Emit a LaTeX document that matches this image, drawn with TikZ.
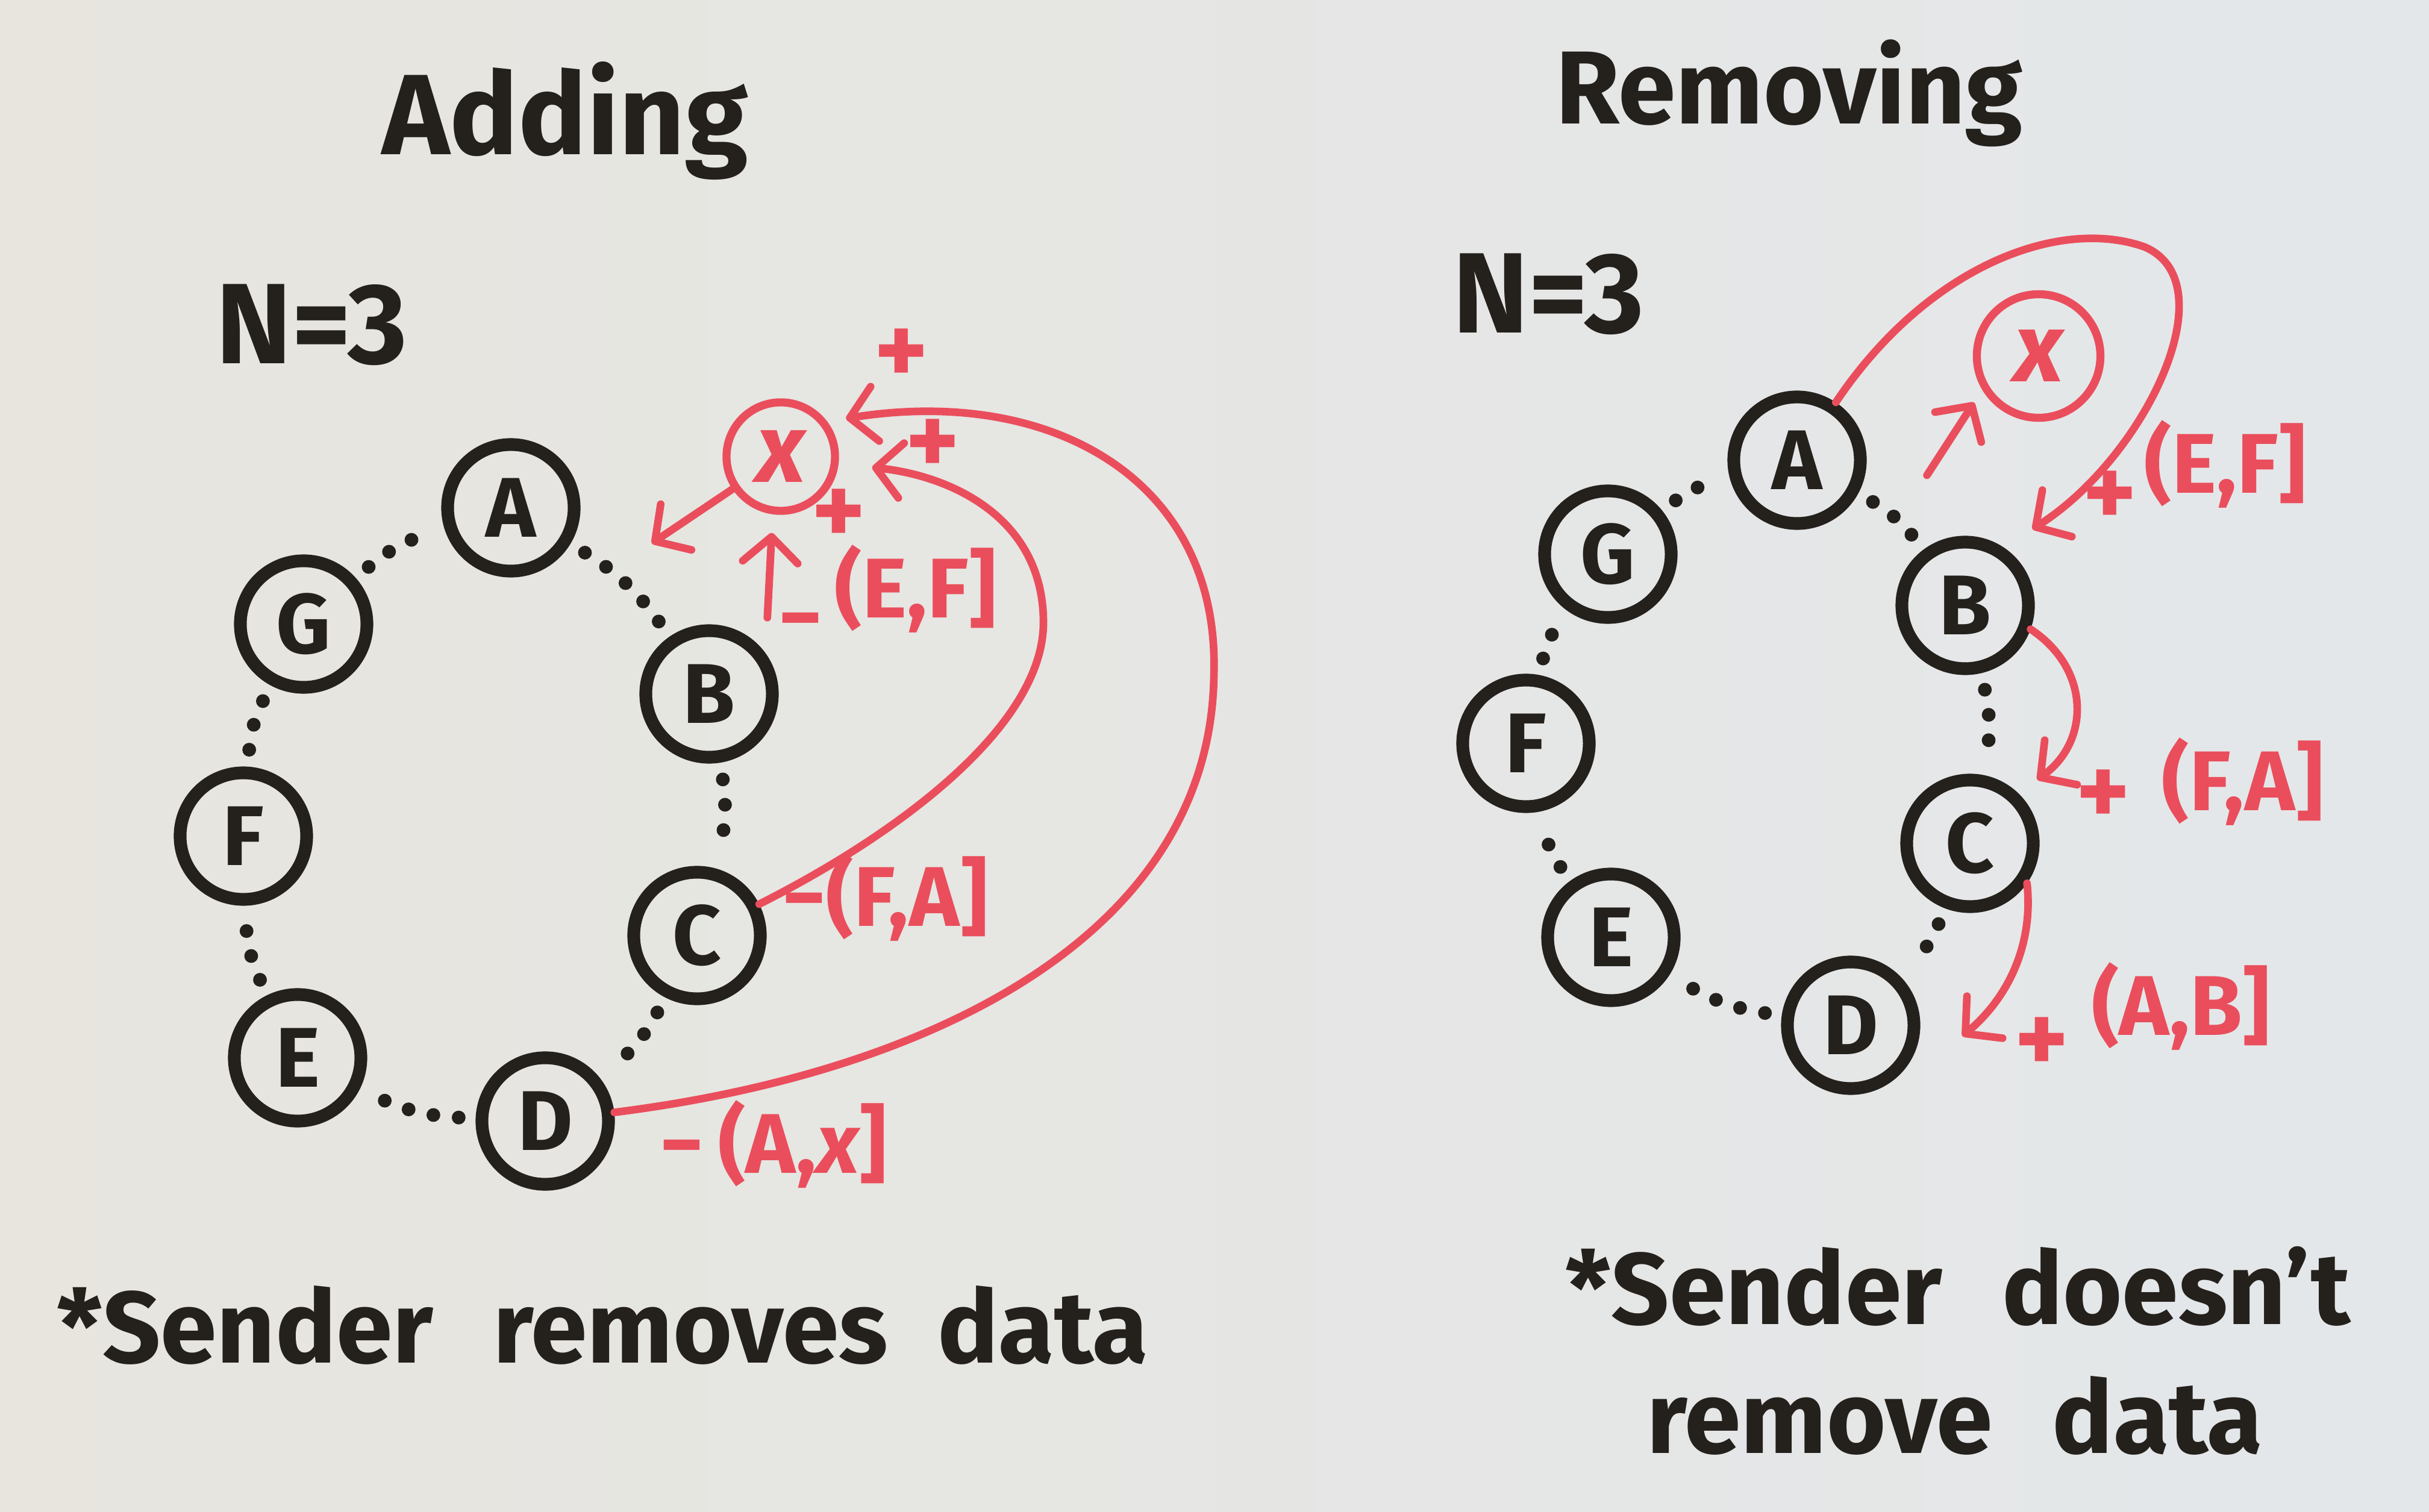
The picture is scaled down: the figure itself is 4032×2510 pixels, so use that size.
\documentclass[tikz,border=0pt]{standalone}
\usepackage{fontspec}
\setmainfont{Fira Sans}
\usetikzlibrary{arrows.meta, positioning, calc}

\definecolor{boardL}{RGB}{231,229,222}
\definecolor{boardR}{RGB}{228,231,234}
\definecolor{ink}{RGB}{36,32,28}
\definecolor{redpen}{RGB}{234,78,92}

\begin{document}
\begin{tikzpicture}[
    x=0.01cm, y=-0.01cm,
    peer/.style={draw=ink, circle, line width=6pt, minimum size=2.1cm, inner sep=0pt, text=ink, font=\fontsize{40}{40}\selectfont\bfseries},
    newpeer/.style={draw=redpen, circle, line width=3.8pt, minimum size=1.8cm, inner sep=0pt, text=redpen, font=\fontsize{46}{46}\selectfont\bfseries\itshape},
    link/.style={draw=ink, line width=6.5pt, line cap=round, dash pattern=on 0pt off 12pt, shorten <=8pt, shorten >=8pt},
    move/.style={draw=redpen, line width=3.6pt, line cap=round, -{Straight Barb[length=12pt, width=26pt, line width=3.6pt, round]}},
    redtxt/.style={text=redpen, font=\fontsize{40}{40}\selectfont\bfseries, inner sep=0pt},
    plus/.style={redtxt, font=\fontsize{48}{48}\selectfont\bfseries},
    title/.style={text=ink, font=\fontsize{54}{54}\selectfont\bfseries, anchor=base},
    note/.style={text=ink, font=\fontsize{48}{48}\selectfont\bfseries, anchor=base}
]

% Pizarra
\useasboundingbox (0,0) rectangle (4032,2510);
\shade[left color=boardL, right color=boardR] (0,0) rectangle (4032,2510);

% Titulos
\node[title] (adding) at (938,257) {Adding};
\node[title, font=\fontsize{49}{49}\selectfont\bfseries] (removing) at (2970,206) {Removing};
\node[title] (nleft) at (517,604) {N=3};
\node[title] (nright) at (2570,553) {N=3};

% Anillo izquierdo
\node[peer] (A) at (848,843) {A};
\node[peer] (B) at (1177,1152) {B};
\node[peer] (C) at (1157,1553) {C};
\node[peer] (D) at (905,1861) {D};
\node[peer] (E) at (494,1756) {E};
\node[peer] (F) at (404,1388) {F};
\node[peer] (G) at (504,1036) {G};
\foreach \a/\b in {A/B, B/C, C/D, D/E, E/F, F/G, G/A}
  \draw[link] (\a) to[bend left=12] (\b);

% Nodo nuevo (izquierda)
\node[newpeer] (X) at (1296,758) {x};
\coordinate (gapAB) at (1082,902);
\draw[move] (X) -- (gapAB);
\draw[move] ($(B.north east)+(15,-45)$) -- ($(X.south)+(-15,30)$);
\draw[move] (C) .. controls (1500,1380) and (1735,1200) .. (1732,1030) .. controls (1730,860) and (1580,790) .. ($(X.east)+(55,18)$);
\draw[move] (D) .. controls (1550,1780) and (2010,1550) .. (2015,1120) .. controls (2025,800) and (1750,640) .. ($(X.north east)+(40,5)$);

\node[plus] (plusD) at (1496,592) {+};
\node[plus] (plusC) at (1548,742) {+};
\node[plus] (plusB) at (1392,858) {+};
\node[redtxt] (minusB) at (1329,1045) {−};
\node[redtxt] (ef) at (1520,978) {(E,F]};
\node[redtxt, anchor=west] (fa) at (1298,1490) {−(F,A]};
\node[redtxt, anchor=west] (ax) at (1095,1900) {−\,(A,{\itshape x}]};

% Anillo derecho
\node[peer] (A2) at (2983,764) {A};
\node[peer] (B2) at (3262,1005) {B};
\node[peer] (C2) at (3270,1400) {C};
\node[peer] (D2) at (3072,1702) {D};
\node[peer] (E2) at (2674,1556) {E};
\node[peer] (F2) at (2533,1234) {F};
\node[peer] (G2) at (2669,920) {G};
\foreach \a/\b in {A2/B2, B2/C2, C2/D2, D2/E2, E2/F2, F2/G2, G2/A2}
  \draw[link] (\a) to[bend left=12] (\b);

% Nodo nuevo (derecha)
\node[newpeer, minimum size=2.05cm] (X2) at (3384,591) {x};
\draw[move] ($(A2.east)+(100,25)$) -- ($(X2.south west)+(-30,0)$);
\draw[move] (A2) .. controls (3200,440) and (3420,360) .. (3560,410) .. controls (3700,470) and (3560,760) .. ($(B2.north east)+(30,-45)$);
\draw[move] (B2.-20) .. controls (3470,1110) and (3470,1230) .. ($(C2.north east)+(30,-24)$);
\draw[move] (C2.-35) .. controls (3375,1560) and (3340,1650) .. ($(D2.east)+(70,18)$);

\node[plus] (plusEF) at (3502,828) {+};
\node[redtxt] (ef2) at (3694,771) {(E,F]};
\node[plus] (plusFA) at (3491,1324) {+};
\node[redtxt] (fa2) at (3723,1298) {(F,A]};
\node[plus] (plusAB) at (3389,1735) {+};
\node[redtxt] (ab2) at (3620,1671) {(A,B]};

% Notas
\node[note] (noteleft) at (1000,2262) {*Sender\hspace{.35em} removes\hspace{.25em} data};
\node[note] (noteright) at (3250,2198) {*Sender\hspace{.35em} doesn't};
\node[note] (noteright2) at (3245,2412) {remove\hspace{.35em} data};

\end{tikzpicture}
\end{document}
